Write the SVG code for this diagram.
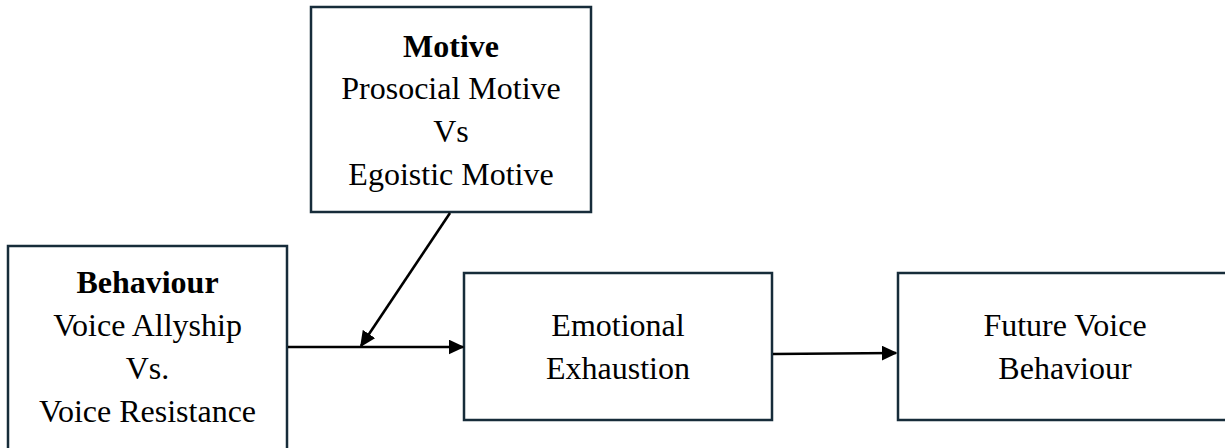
<svg xmlns="http://www.w3.org/2000/svg" width="1225" height="448" viewBox="0 0 1225 448">
  <style>
    .box { fill: #ffffff; stroke: #172c3a; stroke-width: 2.5; }
    .lbl { font-family: "Liberation Serif", "Times New Roman", serif; font-size: 32px; fill: #000000; text-anchor: middle; }
    .b { font-weight: bold; }
    .link { stroke: #000000; stroke-width: 2.6; fill: none; marker-end: url(#head); }
  </style>
  <defs>
    <!-- filled triangular arrowhead, fixed size in user units -->
    <marker id="head" viewBox="0 0 10 10" refX="9" refY="5" markerUnits="userSpaceOnUse" markerWidth="16" markerHeight="15" preserveAspectRatio="none" orient="auto">
      <path d="M0,0 L10,5 L0,10 Z" fill="#000000"/>
    </marker>
  </defs>

  <rect width="1225" height="448" fill="#ffffff"/>

  <g id="node-motive">
    <rect class="box" x="311" y="7" width="280" height="205"/>
    <text class="lbl b" x="451" y="57">Motive</text>
    <text class="lbl" x="451" y="99">Prosocial Motive</text>
    <text class="lbl" x="451" y="142">Vs</text>
    <text class="lbl" x="451" y="185">Egoistic Motive</text>
  </g>

  <g id="node-behaviour">
    <rect class="box" x="8" y="246" width="279" height="215"/>
    <text class="lbl b" x="147.5" y="293">Behaviour</text>
    <text class="lbl" x="147.5" y="336">Voice Allyship</text>
    <text class="lbl" x="147.5" y="379">Vs.</text>
    <text class="lbl" x="147.5" y="422">Voice Resistance</text>
  </g>

  <g id="node-exhaustion">
    <rect class="box" x="464" y="273" width="308" height="147"/>
    <text class="lbl" x="618" y="336">Emotional</text>
    <text class="lbl" x="618" y="379">Exhaustion</text>
  </g>

  <g id="node-future">
    <rect class="box" x="898" y="273" width="340" height="147"/>
    <text class="lbl" x="1065" y="336">Future Voice</text>
    <text class="lbl" x="1065" y="379">Behaviour</text>
  </g>

  <g id="connectors">
    <line class="link" x1="288" y1="347" x2="463" y2="347"/>
    <line class="link" x1="450" y1="213" x2="361" y2="346"/>
    <line class="link" x1="773" y1="354" x2="896" y2="353"/>
  </g>
</svg>
